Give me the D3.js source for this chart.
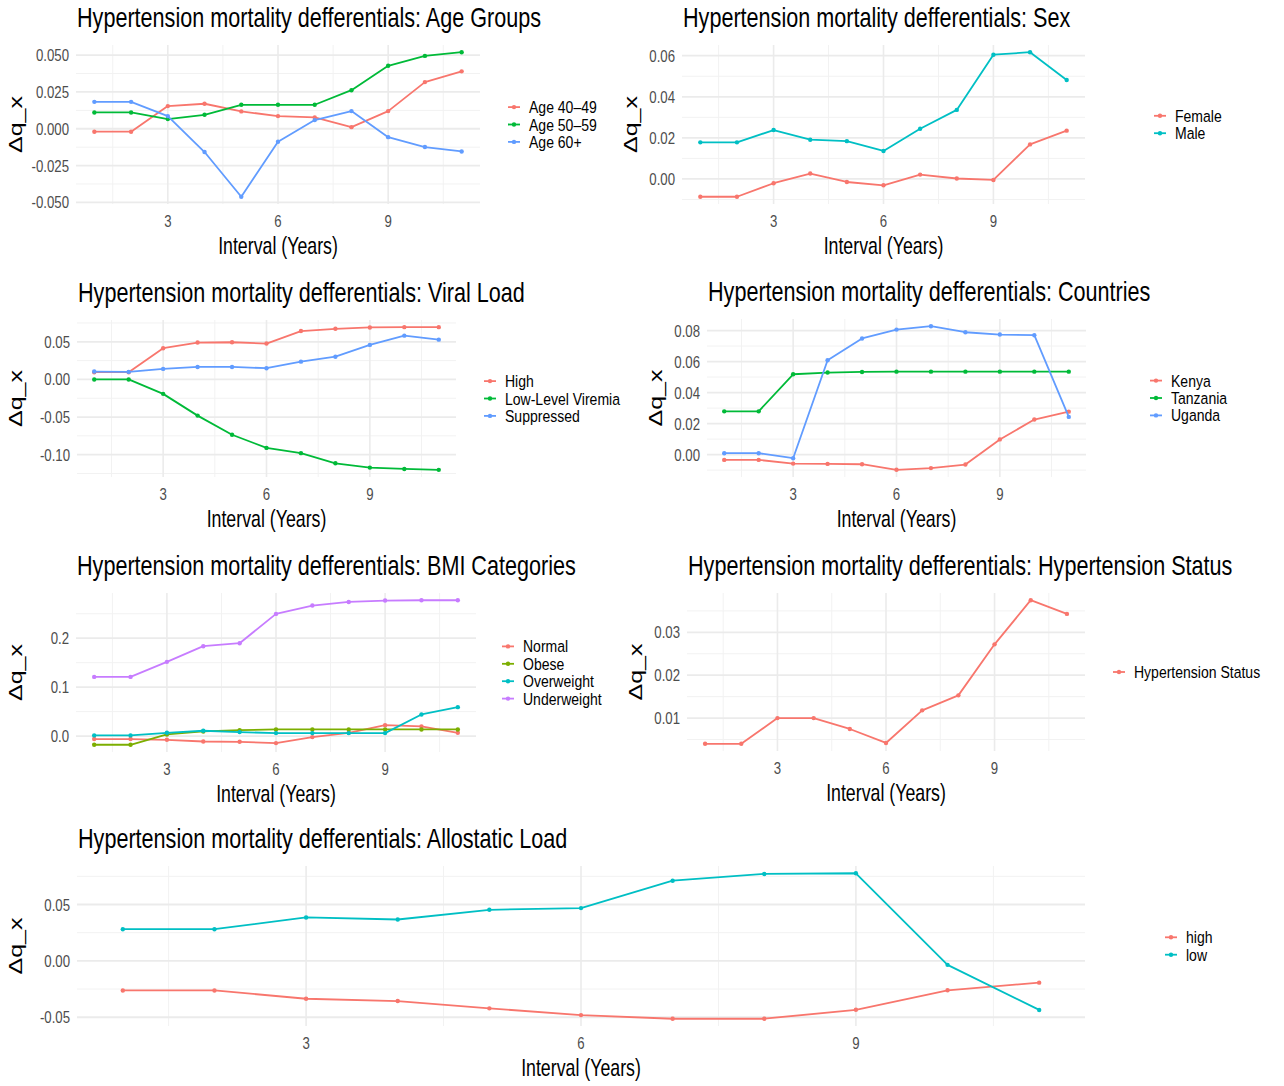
<!DOCTYPE html>
<html>
<head>
<meta charset="utf-8">
<script src="https://cdn.jsdelivr.net/npm/d3@7"></script>
<style>
  body { margin: 0; background: #fff; }
  svg text { font-family: "Liberation Sans", Arial, Helvetica, sans-serif; }
</style>
</head>
<body>
<svg id="chart" width="1284" height="1086"></svg>
<script>
// ---- data ----
var intervals = [1, 2, 3, 4, 5, 6, 7, 8, 9, 10, 11];
var xTicks = [3, 6, 9];

var ageGroups = ["Age 40\u201349", "Age 50\u201359", "Age 60+"];
var age4049 = [-0.002, -0.002, 0.0154, 0.017, 0.0118, 0.0086, 0.0077, 0.0011, 0.012, 0.0317, 0.039];
var age5059 = [0.0111, 0.0111, 0.0066, 0.0095, 0.0163, 0.0163, 0.0163, 0.0262, 0.0428, 0.0495, 0.052];
var age60 = [0.0183, 0.0183, 0.0086, -0.0158, -0.0462, -0.0088, 0.0059, 0.012, -0.0057, -0.0124, -0.0154];
var ageTicks = [-0.05, -0.025, 0, 0.025, 0.05];

var sexGroups = ["Female", "Male"];
var female = [-0.0087, -0.0087, -0.0021, 0.0026, -0.0015, -0.0031, 0.0021, 0.0002, -0.0005, 0.0168, 0.0235];
var male = [0.0178, 0.0178, 0.0238, 0.0191, 0.0184, 0.0136, 0.0244, 0.0336, 0.0605, 0.0617, 0.0482];
var sexTicks = [0, 0.02, 0.04, 0.06];

var viralGroups = ["High", "Low-Level Viremia", "Suppressed"];
var viralHigh = [0.0096, 0.0096, 0.0415, 0.049, 0.0494, 0.0477, 0.0643, 0.0673, 0.0691, 0.0695, 0.0695];
var viralLow = [0, 0, -0.0192, -0.0481, -0.0735, -0.091, -0.098, -0.1115, -0.1172, -0.119, -0.1202];
var viralSupp = [0.0105, 0.01, 0.014, 0.0166, 0.0166, 0.0149, 0.0236, 0.0302, 0.0459, 0.0582, 0.0529];
var viralTicks = [-0.1, -0.05, 0, 0.05];

var countryGroups = ["Kenya", "Tanzania", "Uganda"];
var kenya = [-0.0034, -0.0034, -0.0058, -0.006, -0.0062, -0.0098, -0.0087, -0.0064, 0.0098, 0.0226, 0.0277];
var tanzania = [0.0279, 0.0279, 0.0518, 0.0529, 0.0533, 0.0535, 0.0535, 0.0535, 0.0535, 0.0535, 0.0535];
var uganda = [0.0009, 0.0009, -0.0023, 0.0608, 0.0749, 0.0806, 0.0828, 0.0789, 0.0774, 0.077, 0.0243];
var countryTicks = [0, 0.02, 0.04, 0.06, 0.08];

var bmiGroups = ["Normal", "Obese", "Overweight", "Underweight"];
var bmiNormal = [-0.006, -0.006, -0.0075, -0.011, -0.0116, -0.0143, -0.002, 0.0068, 0.0224, 0.0197, 0.0068];
var bmiObese = [-0.0177, -0.0177, 0.0034, 0.0095, 0.0122, 0.0136, 0.0136, 0.0136, 0.0136, 0.0136, 0.0136];
var bmiOver = [0.0014, 0.0014, 0.0068, 0.0109, 0.0082, 0.0061, 0.0061, 0.0061, 0.0061, 0.0442, 0.0592];
var bmiUnder = [0.121, 0.121, 0.1517, 0.1837, 0.1898, 0.2497, 0.2667, 0.2741, 0.2769, 0.2776, 0.2776];
var bmiTicks = [0, 0.1, 0.2];

var htnGroups = ["Hypertension Status"];
var htnStatus = [0.004, 0.004, 0.01, 0.01, 0.00746, 0.0042, 0.0118, 0.0153, 0.0272, 0.0375, 0.0343];
var htnTicks = [0.01, 0.02, 0.03];

var alloGroups = ["high", "low"];
var alloHigh = [-0.0262, -0.0262, -0.0336, -0.0356, -0.0421, -0.0481, -0.0513, -0.0513, -0.0434, -0.0261, -0.0193];
var alloLow = [0.0281, 0.0281, 0.0385, 0.0367, 0.0453, 0.0468, 0.0711, 0.0771, 0.0777, -0.0035, -0.0435];
var alloTicks = [-0.05, 0, 0.05];

var hue2 = ["#F8766D", "#00BFC4"];
var hue3 = ["#F8766D", "#00BA38", "#619CFF"];
var hue4 = ["#F8766D", "#7CAE00", "#00BFC4", "#C77CFF"];

// ---- layout ----
// left-column panels share an aligned y-axis title (yTitleX); right column follows its tick labels
var panels = [
  {title: "Age Groups", names: ageGroups, series: [age4049, age5059, age60], ticks: ageTicks, dec: 3, colors: hue3,
   left: 76, right: 480, top: 45, bottom: 204, legendX: 529, yTitleX: 22},
  {title: "Sex", names: sexGroups, series: [female, male], ticks: sexTicks, dec: 2, colors: hue2,
   left: 682, right: 1085, top: 45, bottom: 204, legendX: 1175},
  {title: "Viral Load", names: viralGroups, series: [viralHigh, viralLow, viralSupp], ticks: viralTicks, dec: 2, colors: hue3,
   left: 77, right: 456, top: 320, bottom: 477, legendX: 505, yTitleX: 22},
  {title: "Countries", names: countryGroups, series: [kenya, tanzania, uganda], ticks: countryTicks, dec: 2, colors: hue3,
   left: 707, right: 1086, top: 319, bottom: 477, legendX: 1171},
  {title: "BMI Categories", names: bmiGroups, series: [bmiNormal, bmiObese, bmiOver, bmiUnder], ticks: bmiTicks, dec: 1, colors: hue4,
   left: 76, right: 476, top: 593, bottom: 752, legendX: 523, yTitleX: 22},
  {title: "Hypertension Status", names: htnGroups, series: [htnStatus], ticks: htnTicks, dec: 2, colors: ["#F8766D"],
   left: 687, right: 1085, top: 593, bottom: 751, legendX: 1134},
  {title: "Allostatic Load", names: alloGroups, series: [alloHigh, alloLow], ticks: alloTicks, dec: 2, colors: hue2,
   left: 77, right: 1085, top: 866, bottom: 1026, legendX: 1186, yTitleX: 22}
];

var svg = d3.select("#chart");

function label(g, x, y, str, size, sx, fill, anchor) {
  return g.append("text")
      .attr("transform", "translate(" + x + "," + y + ") scale(" + sx + ",1)")
      .attr("text-anchor", anchor || "start")
      .style("font-size", size + "px")
      .attr("fill", fill || "#000")
      .text(str);
}

function expand(ext) {
  var pad = (ext[1] - ext[0]) * 0.05;
  return [ext[0] - pad, ext[1] + pad];
}

function minors(major, domain) {
  var step = major[1] - major[0], out = [];
  var ext = [major[0] - step].concat(major, [major[major.length - 1] + step]);
  for (var i = 0; i < ext.length - 1; i++) {
    var m = (ext[i] + ext[i + 1]) / 2;
    if (m >= domain[0] && m <= domain[1]) out.push(m);
  }
  return out;
}

panels.forEach(function(p) {
  var g = svg.append("g");
  var x = d3.scaleLinear().domain(expand(d3.extent(intervals))).range([p.left, p.right]);
  var allVals = d3.merge(p.series);
  var y = d3.scaleLinear().domain(expand(d3.extent(allVals))).range([p.bottom, p.top]);

  // grid
  var grid = g.append("g");
  grid.selectAll(".xmin").data(minors(xTicks, x.domain())).enter().append("line")
      .attr("x1", x).attr("x2", x).attr("y1", p.top).attr("y2", p.bottom)
      .attr("stroke", "#F2F2F2").attr("stroke-width", 1);
  grid.selectAll(".ymin").data(minors(p.ticks, y.domain())).enter().append("line")
      .attr("y1", y).attr("y2", y).attr("x1", p.left).attr("x2", p.right)
      .attr("stroke", "#F2F2F2").attr("stroke-width", 1);
  grid.selectAll(".xmaj").data(xTicks).enter().append("line")
      .attr("x1", x).attr("x2", x).attr("y1", p.top).attr("y2", p.bottom)
      .attr("stroke", "#EBEBEB").attr("stroke-width", 1.6);
  grid.selectAll(".ymaj").data(p.ticks).enter().append("line")
      .attr("y1", y).attr("y2", y).attr("x1", p.left).attr("x2", p.right)
      .attr("stroke", "#EBEBEB").attr("stroke-width", 1.8);

  // y tick labels
  var maxW = 0, tsx = 0.8;
  p.ticks.forEach(function(t) {
    var el = label(g, p.left - 7, y(t) + 6, t.toFixed(p.dec), 16.5, tsx, "#4D4D4D", "end");
    maxW = Math.max(maxW, el.node().getComputedTextLength() * tsx);
  });
  // x tick labels
  xTicks.forEach(function(t) {
    label(g, x(t), p.bottom + 23, String(t), 16.5, tsx, "#4D4D4D", "middle");
  });

  // axis titles
  label(g, (p.left + p.right) / 2, p.bottom + 50, "Interval (Years)", 24, 0.74, "#000", "middle");
  var yx = p.yTitleX != null ? p.yTitleX : p.left - 7 - maxW - 12;
  g.append("text")
      .attr("transform", "translate(" + yx + "," + ((p.top + p.bottom) / 2) + ") rotate(-90) scale(1,0.75)")
      .attr("text-anchor", "middle")
      .style("font-size", "25px")
      .attr("fill", "#000")
      .text("\u0394q_x");

  // title
  label(g, p.left + 1, p.top - 18, "Hypertension mortality defferentials: " + p.title, 27, 0.8, "#000", "start");

  // lines + points
  var line = d3.line().x(function(d, i) { return x(intervals[i]); }).y(function(d) { return y(d); });
  p.series.forEach(function(s, k) {
    g.append("path").attr("d", line(s)).attr("fill", "none")
        .attr("stroke", p.colors[k]).attr("stroke-width", 1.8).attr("stroke-linejoin", "round");
    g.selectAll(null).data(s).enter().append("circle")
        .attr("cx", function(d, i) { return x(intervals[i]); })
        .attr("cy", function(d) { return y(d); })
        .attr("r", 2.2).attr("fill", p.colors[k]);
  });

  // legend
  var step = 17.4;
  var y0 = (p.top + p.bottom) / 2 - (p.names.length - 1) * step / 2;
  p.names.forEach(function(n, k) {
    var ly = y0 + k * step;
    g.append("line").attr("x1", p.legendX - 21).attr("x2", p.legendX - 9)
        .attr("y1", ly).attr("y2", ly).attr("stroke", p.colors[k]).attr("stroke-width", 1.8);
    g.append("circle").attr("cx", p.legendX - 15).attr("cy", ly).attr("r", 2.2).attr("fill", p.colors[k]);
    label(g, p.legendX, ly + 6, n, 16.5, 0.85, "#000", "start");
  });
});
</script>
</body>
</html>
